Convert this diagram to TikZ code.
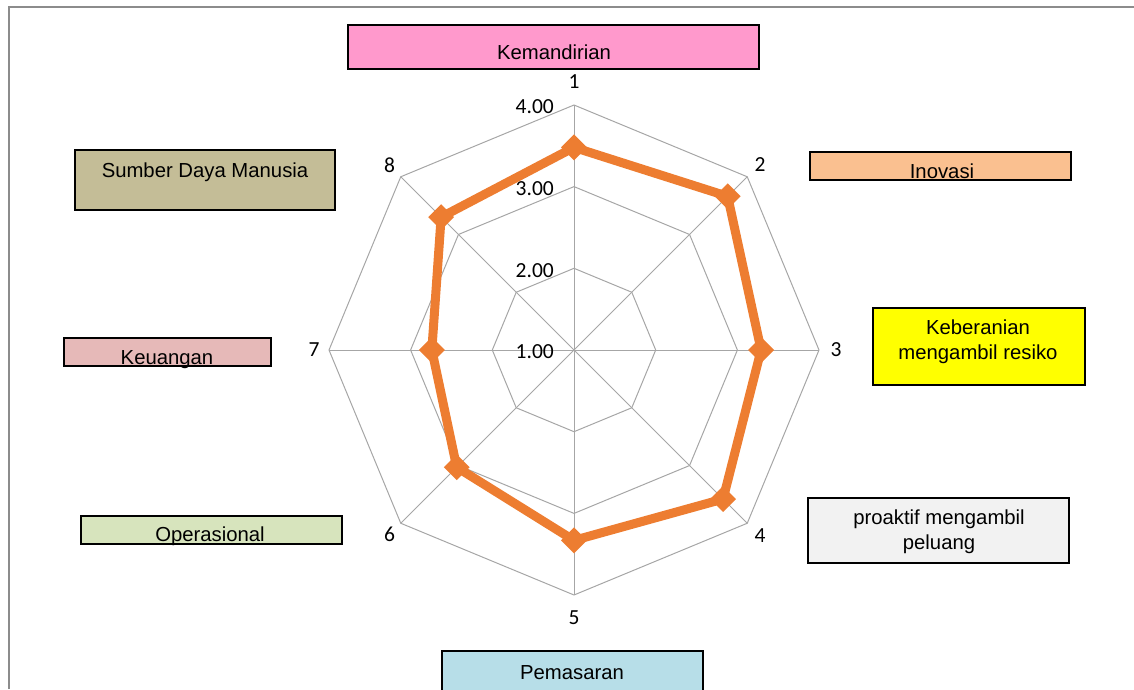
\documentclass[tikz,border=0pt]{standalone}
\usepackage{fontspec}
\setmainfont{Liberation Sans}
\newfontfamily\axisfont{Carlito}
\usetikzlibrary{shapes.geometric}
\definecolor{radarorange}{HTML}{ED7D31}
\definecolor{gridgray}{HTML}{A6A6A6}
\definecolor{framegray}{HTML}{8C8C8C}
\definecolor{kemcol}{HTML}{FF99CC}
\definecolor{sdmcol}{HTML}{C4BD97}
\definecolor{keucol}{HTML}{E6B9B8}
\definecolor{opcol}{HTML}{D7E4BD}
\definecolor{inocol}{HTML}{FAC090}
\definecolor{bercol}{HTML}{FFFF00}
\definecolor{procol}{HTML}{F2F2F2}
\definecolor{pemcol}{HTML}{B7DEE8}

\begin{document}
\begin{tikzpicture}[x=1pt, y=-1pt,
    box/.style={draw=black, line width=2pt, inner sep=0pt},
    lbl/.style={font=\fontsize{20.3}{25}\selectfont, align=center, anchor=base, inner sep=0pt},
    grid/.style={draw=gridgray, line width=1pt},
    num/.style={font=\axisfont\fontsize{21.5}{24}\selectfont, inner sep=0pt},
    dataline/.style={draw=radarorange, line width=9pt},
    marker/.style={diamond, fill=radarorange, minimum size=26pt, inner sep=0pt},
    frame/.style={draw=framegray, line width=2pt}]
    \useasboundingbox (0,0) rectangle (1134,689);
    \draw[frame] (8.5,689) -- (8.5,6.5) -- (1134,6.5);

    \node[box, fill=kemcol, minimum width=411pt, minimum height=44pt] (kem) at (553.5,47) {};
    \node[box, fill=sdmcol, minimum width=260pt, minimum height=60pt] (sdm) at (205,180) {};
    \node[box, fill=keucol, minimum width=207pt, minimum height=28pt] (keu) at (167.5,352) {};
    \node[box, fill=opcol, minimum width=261pt, minimum height=28pt] (op) at (211,530) {};
    \node[box, fill=inocol, minimum width=261pt, minimum height=28pt] (ino) at (940.5,166) {};
    \node[box, fill=bercol, minimum width=212pt, minimum height=77pt] (ber) at (979,346.5) {};
    \node[box, fill=procol, minimum width=261pt, minimum height=65pt] (pro) at (938.5,530.5) {};
    \node[box, fill=pemcol, minimum width=261pt, minimum height=50pt] (pem) at (572.5,676) {};

    \node[lbl] (kemtext) at (554,59) {Kemandirian};
    \node[lbl] (sdmtext) at (205,177) {Sumber Daya Manusia};
    \node[lbl] (keutext) at (167,364) {Keuangan};
    \node[lbl] (optext) at (210,541) {Operasional};
    \node[lbl] (inotext) at (942,178) {Inovasi};
    \node[lbl] (bertext) at (978,359) {Keberanian\\mengambil resiko};
    \node[lbl] (protext) at (939,549) {proaktif mengambil\\peluang};
    \node[lbl] (pemtext) at (572,679) {Pemasaran};

    \begin{scope}[shift={(574,350)}]
        \foreach \r in {81.7,163.4,245}
            \draw[grid] (-90:\r) \foreach \a in {-45,0,...,225} {-- (\a:\r)} -- cycle;
        \foreach \a in {-90,-45,...,225}
            \draw[grid] (0,0) -- (\a:245);
        \foreach \i/\d in {1/268,2/263,3/262,4/263,5/268,6/261,7/260,8/261}
            \node[num] (ax\i) at ({45*\i-135}:\d) {\i};
        \foreach \v [count=\k from 0] in {1.00,2.00,3.00,4.00}
            \node[num, anchor=east] (tick\k) at (-20,{2-81.7*\k}) {\v};

        \foreach \v [count=\i] in {3.48,3.66,3.29,3.58,3.33,3.03,2.74,3.30}
            \coordinate (p\i) at ({45*\i-135}:{(\v-1)*81.7});
        \draw[dataline] (p1) -- (p2) -- (p3) -- (p4) -- (p5) -- (p6) -- (p7) -- (p8) -- cycle;
        \foreach \i in {1,...,8}
            \node[marker] (m\i) at (p\i) {};
    \end{scope}
\end{tikzpicture}
\end{document}
